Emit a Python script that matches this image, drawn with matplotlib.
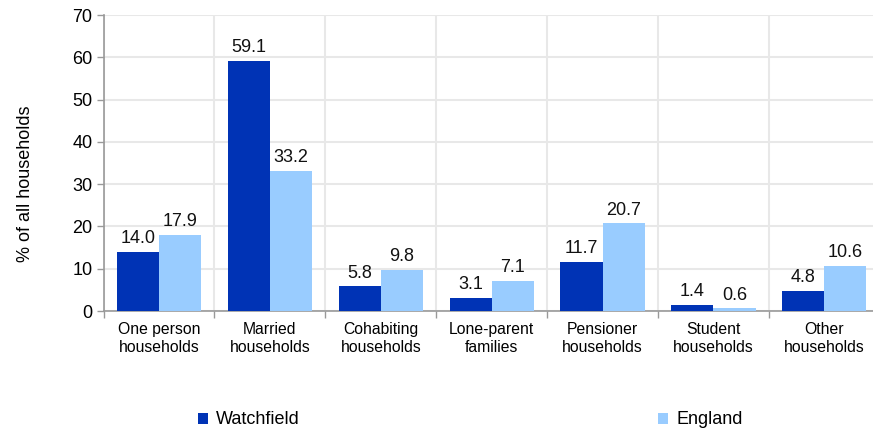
import matplotlib
matplotlib.use("Agg")
import matplotlib.pyplot as plt
import numpy as np

categories = ["One person\nhouseholds", "Married\nhouseholds", "Cohabiting\nhouseholds",
              "Lone-parent\nfamilies", "Pensioner\nhouseholds", "Student\nhouseholds",
              "Other\nhouseholds"]
watchfield = [14.0, 59.1, 5.8, 3.1, 11.7, 1.4, 4.8]
england = [17.9, 33.2, 9.8, 7.1, 20.7, 0.6, 10.6]
series_names = ["Watchfield", "England"]
yticks = [0, 10, 20, 30, 40, 50, 60, 70]

plt.rcParams['font.family'] = ['Liberation Sans', 'DejaVu Sans']

fig = plt.figure(figsize=(8.73, 4.32), dpi=100)
ax = fig.add_axes([103.5/873, 1-311/432, (7*110.9)/873, (311-15)/432])

x = np.arange(len(categories))
w = 0.38
c1 = "#0033b5"
c2 = "#99ccff"
b1 = ax.bar(x - w/2, watchfield, w, color=c1, label=series_names[0], zorder=3)
b2 = ax.bar(x + w/2, england, w, color=c2, label=series_names[1], zorder=3)

for bars, vals in ((b1, watchfield), (b2, england)):
    for r, v in zip(bars, vals):
        ax.annotate(f"{v:.1f}", (r.get_x() + r.get_width()/2, r.get_height()),
                    xytext=(0, 3.5), textcoords="offset points", ha="center", va="bottom",
                    fontsize=13, color="#111111")

ax.set_xlim(-0.5, len(categories) - 0.5)
ax.set_ylim(0, 70)
ax.set_yticks(yticks)
ax.tick_params(axis='y', labelsize=13, length=5, color="#999999", width=1, pad=3)
ax.set_xticks(np.arange(len(categories) + 1) - 0.5)
ax.set_xticklabels([])
ax.tick_params(axis='x', length=5, color="#999999", width=1)
ax.set_xticks(x, minor=True)
ax.set_xticklabels(categories, minor=True, fontsize=11.3)
ax.tick_params(axis='x', which='minor', length=0, pad=8)

ax.grid(axis='both', which='major', color="#e8e8e8", linewidth=1.5, zorder=0)
for s in ["top", "right"]:
    ax.spines[s].set_visible(False)
for s in ["left", "bottom"]:
    ax.spines[s].set_color("#999999")
    ax.spines[s].set_linewidth(1.2)

fig.text(26/873, 1-184/432, "% of all households", rotation=90, ha="center", va="center",
         fontsize=13)

fig.legend(handles=[b1, b2], labels=series_names, loc="center left",
           bbox_to_anchor=(198/873, 1-420/432), ncol=2, frameon=False,
           fontsize=13, handlelength=0.55, handleheight=0.55, handletextpad=0.47,
           columnspacing=19.8, borderpad=0, borderaxespad=0)

fig.savefig("out.png", dpi=100)
